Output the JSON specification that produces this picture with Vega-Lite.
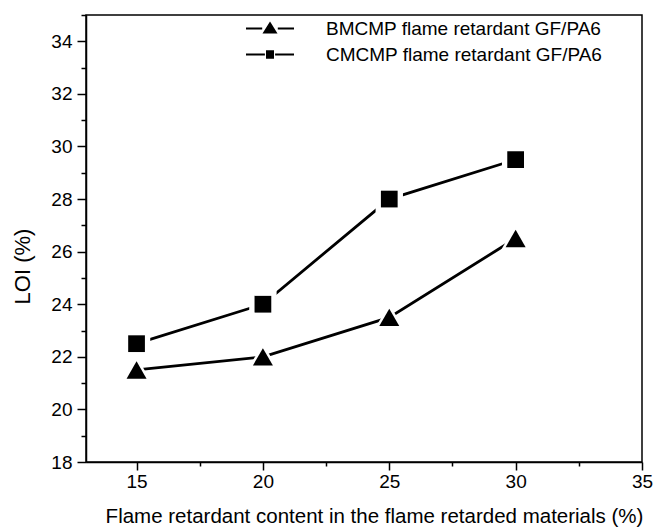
{
  "$schema": "https://vega.github.io/schema/vega-lite/v6.json",
  "width": 556,
  "height": 447,
  "autosize": {"type": "none"},
  "padding": {"left": 86, "top": 15, "right": 11, "bottom": 66},
  "background": "white",
  "config": {
    "font": "Liberation Sans",
    "view": {"stroke": "black", "strokeWidth": 1.5},
    "axis": {
      "domainColor": "black", "domainWidth": 1.5,
      "tickColor": "black", "tickWidth": 1.5,
      "labelColor": "black", "labelFont": "Liberation Sans", "labelFontSize": 19,
      "titleColor": "black", "titleFont": "Liberation Sans", "titleFontWeight": "normal",
      "grid": false
    }
  },
  "data": {"values": [
    {"content": 15, "loi": 21.5, "series": "BMCMP flame retardant GF/PA6"},
    {"content": 20, "loi": 22.0, "series": "BMCMP flame retardant GF/PA6"},
    {"content": 25, "loi": 23.5, "series": "BMCMP flame retardant GF/PA6"},
    {"content": 30, "loi": 26.5, "series": "BMCMP flame retardant GF/PA6"},
    {"content": 15, "loi": 22.5, "series": "CMCMP flame retardant GF/PA6"},
    {"content": 20, "loi": 24.0, "series": "CMCMP flame retardant GF/PA6"},
    {"content": 25, "loi": 28.0, "series": "CMCMP flame retardant GF/PA6"},
    {"content": 30, "loi": 29.5, "series": "CMCMP flame retardant GF/PA6"}
  ]},
  "encoding": {
    "x": {
      "field": "content", "type": "quantitative",
      "scale": {"domain": [13, 35], "nice": false, "zero": false},
      "axis": {
        "title": "Flame retardant content in the flame retarded materials (%)",
        "titleFontSize": 20.5, "titlePadding": 15,
        "titleX": 288,
        "values": [15, 17.5, 20, 22.5, 25, 27.5, 30, 32.5, 35],
        "labelExpr": "datum.value % 5 === 0 ? datum.label : ''",
        "tickSize": {"condition": {"test": "datum.value % 5 === 0", "value": 8}, "value": 4},
        "labelPadding": 2,
        "labelFlush": false
      }
    },
    "y": {
      "field": "loi", "type": "quantitative",
      "scale": {"domain": [18, 35], "nice": false, "zero": false},
      "axis": {
        "title": "LOI  (%)",
        "titleFontSize": 22,
        "titleAngle": -90,
        "titleBaseline": "middle",
        "titleAlign": "center",
        "titleX": -64,
        "titleY": 251,
        "values": [18, 19, 20, 21, 22, 23, 24, 25, 26, 27, 28, 29, 30, 31, 32, 33, 34, 35],
        "labelExpr": "datum.value % 2 === 0 && datum.value < 35 ? datum.label : ''",
        "tickSize": {"condition": {"test": "datum.value % 2 === 0", "value": 9}, "value": 5},
        "labelPadding": 5,
        "labelFlush": false
      }
    }
  },
  "layer": [
    {
      "mark": {"type": "line", "strokeWidth": 2.8},
      "encoding": {
        "color": {
          "field": "series", "type": "nominal",
          "scale": {"range": ["black", "black"]},
          "legend": {
            "title": null,
            "orient": "none",
            "legendX": 174.5,
            "legendY": 4,
            "symbolSize": 144,
            "symbolStrokeWidth": 2,
            "labelFont": "Liberation Sans",
            "labelFontSize": 19,
            "labelColor": "black",
            "labelOffset": 46.5,
            "rowPadding": 6,
            "labelLimit": 400,
            "encode": {
              "symbols": {
                "update": {
                  "shape": {"signal": "indexof(datum.value, 'BMCMP') === 0 ? 'M-4,0H-1.3M1.3,0H4M0,-0.85L0.95,0.65L-0.95,0.65Z' : 'M-4,0H-0.85M0.85,0H4M-0.5,-0.55H0.5V0.55H-0.5Z'"},
                  "fill": {"value": "black"},
                  "stroke": {"value": "black"},
                  "strokeWidth": {"value": 2},
                  "opacity": {"value": 1}
                }
              }
            }
          }
        },
        "detail": {"field": "series", "type": "nominal"}
      }
    },
    {
      "transform": [{"filter": "indexof(datum.series, 'BMCMP') === 0"}],
      "mark": {"type": "point", "shape": "triangle-up", "filled": true, "color": "white", "opacity": 1, "size": 1000}
    },
    {
      "transform": [{"filter": "indexof(datum.series, 'CMCMP') === 0"}],
      "mark": {"type": "point", "shape": "square", "filled": true, "color": "white", "opacity": 1, "size": 750}
    },
    {
      "transform": [{"filter": "indexof(datum.series, 'BMCMP') === 0"}],
      "mark": {"type": "point", "shape": "triangle-up", "filled": true, "color": "black", "opacity": 1, "size": 400}
    },
    {
      "transform": [{"filter": "indexof(datum.series, 'CMCMP') === 0"}],
      "mark": {"type": "point", "shape": "square", "filled": true, "color": "black", "opacity": 1, "size": 280}
    }
  ]
}
